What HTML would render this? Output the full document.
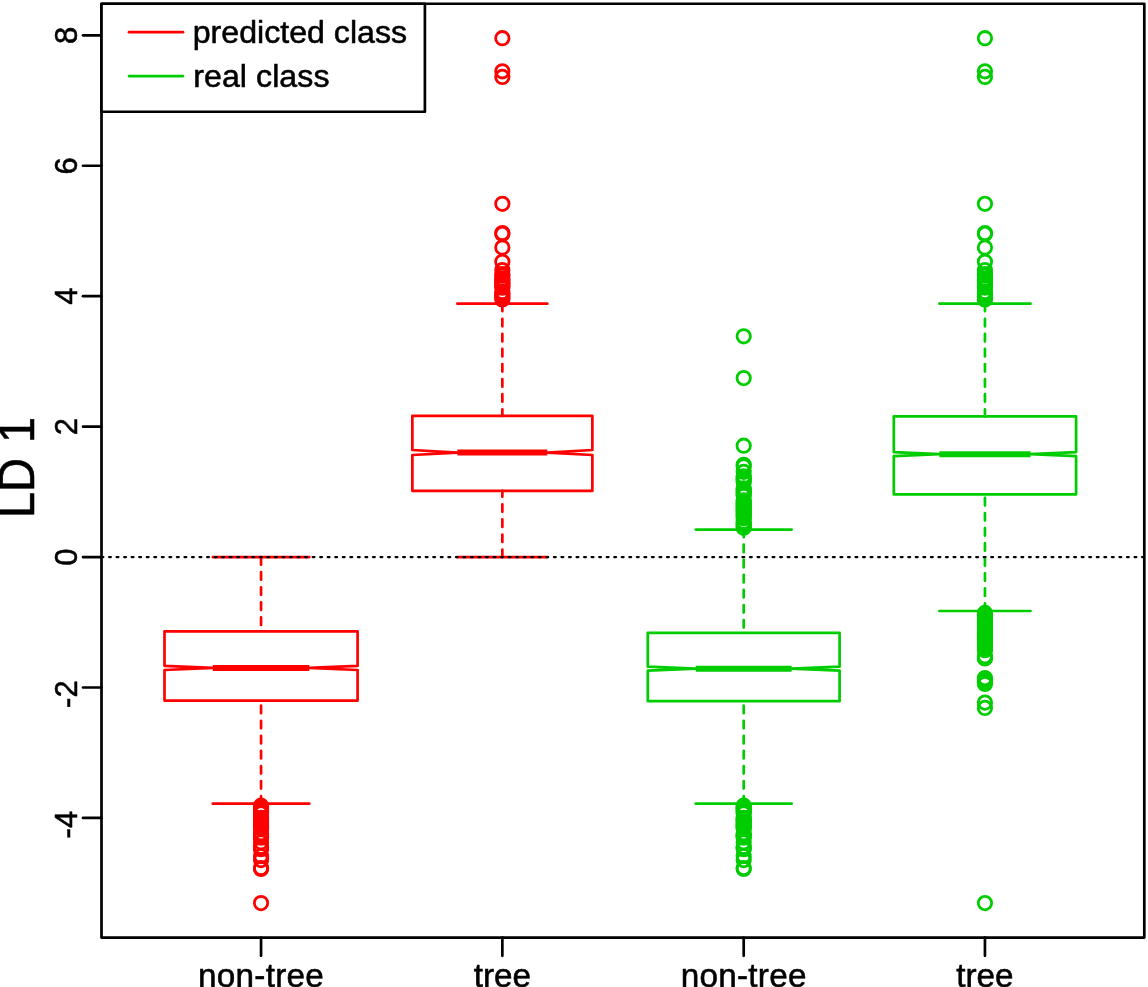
<!DOCTYPE html>
<html lang="en"><head><meta charset="utf-8"><title>LD 1 boxplot</title>
<style>html,body{margin:0;padding:0;background:#fff;overflow:hidden}body{width:1148px;height:987px;position:relative}</style></head>
<body>
<svg width="1148" height="987" viewBox="0 0 1148 987" style="display:block;position:absolute;left:0;top:0">
<rect width="1148" height="987" fill="#fff"/>
<g fill="none" stroke="#ff0000" stroke-width="2.7" stroke-linecap="round" stroke-linejoin="round">
<path d="M261.05 557.1V631.4M261.05 803.7V700.6" stroke-dasharray="7.54 7.54"/>
<path d="M212.775 557.1H309.325M212.775 803.7H309.325"/>
<path d="M164.5 700.6H357.6V670.0L309.325 667.9L357.6 665.8V631.4H164.5V665.8L212.775 667.9L164.5 670.0Z"/>
<path d="M212.775 667.9H309.325" stroke-width="6.0" stroke-linecap="butt"/>
</g>
<g fill="none" stroke="#ff0000" stroke-width="2.7" stroke-linecap="round" stroke-linejoin="round">
<path d="M502.35 303.7V415.9M502.35 557.1V490.9" stroke-dasharray="7.54 7.54"/>
<path d="M457.35 303.7H547.35M457.35 557.1H547.35"/>
<path d="M412.35 490.9H592.35V455.0L547.35 452.6L592.35 450.0V415.9H412.35V450.0L457.35 452.6L412.35 455.0Z"/>
<path d="M457.35 452.6H547.35" stroke-width="6.0" stroke-linecap="butt"/>
</g>
<g fill="none" stroke="#00cd00" stroke-width="2.7" stroke-linecap="round" stroke-linejoin="round">
<path d="M743.7 529.6V632.8M743.7 803.7V701.2" stroke-dasharray="7.54 7.54"/>
<path d="M695.75 529.6H791.6500000000001M695.75 803.7H791.6500000000001"/>
<path d="M647.8000000000001 701.2H839.6V670.7L791.6500000000001 668.7L839.6 666.7V632.8H647.8000000000001V666.7L695.75 668.7L647.8000000000001 670.7Z"/>
<path d="M695.75 668.7H791.6500000000001" stroke-width="6.0" stroke-linecap="butt"/>
</g>
<g fill="none" stroke="#00cd00" stroke-width="2.7" stroke-linecap="round" stroke-linejoin="round">
<path d="M984.95 303.7V416.4M984.95 611.0V494.3" stroke-dasharray="7.54 7.54"/>
<path d="M939.375 303.7H1030.525M939.375 611.0H1030.525"/>
<path d="M893.8000000000001 494.3H1076.1000000000001V456.2L1030.525 454.2L1076.1000000000001 452.1V416.4H893.8000000000001V452.1L939.375 454.2L893.8000000000001 456.2Z"/>
<path d="M939.375 454.2H1030.525" stroke-width="6.0" stroke-linecap="butt"/>
</g>
<g fill="none" stroke="#ff0000" stroke-width="2.8">
<circle cx="261.05" cy="805.70" r="6.7"/>
<circle cx="261.05" cy="806.80" r="6.7"/>
<circle cx="261.05" cy="807.90" r="6.7"/>
<circle cx="261.05" cy="809.00" r="6.7"/>
<circle cx="261.05" cy="810.10" r="6.7"/>
<circle cx="261.05" cy="811.20" r="6.7"/>
<circle cx="261.05" cy="812.30" r="6.7"/>
<circle cx="261.05" cy="813.40" r="6.7"/>
<circle cx="261.05" cy="817.80" r="6.7"/>
<circle cx="261.05" cy="818.90" r="6.7"/>
<circle cx="261.05" cy="820.00" r="6.7"/>
<circle cx="261.05" cy="821.10" r="6.7"/>
<circle cx="261.05" cy="822.20" r="6.7"/>
<circle cx="261.05" cy="823.30" r="6.7"/>
<circle cx="261.05" cy="824.40" r="6.7"/>
<circle cx="261.05" cy="825.50" r="6.7"/>
<circle cx="261.05" cy="826.60" r="6.7"/>
<circle cx="261.05" cy="827.70" r="6.7"/>
<circle cx="261.05" cy="828.80" r="6.7"/>
<circle cx="261.05" cy="833.25" r="6.7"/>
<circle cx="261.05" cy="834.40" r="6.7"/>
<circle cx="261.05" cy="835.50" r="6.7"/>
<circle cx="261.05" cy="836.65" r="6.7"/>
<circle cx="261.05" cy="837.75" r="6.7"/>
<circle cx="261.05" cy="842.25" r="6.7"/>
<circle cx="261.05" cy="846.95" r="6.7"/>
<circle cx="261.05" cy="847.85" r="6.7"/>
<circle cx="261.05" cy="849.25" r="6.7"/>
<circle cx="261.05" cy="856.10" r="6.7"/>
<circle cx="261.05" cy="860.10" r="6.7"/>
<circle cx="261.05" cy="868.00" r="6.7"/>
<circle cx="261.05" cy="868.90" r="6.7"/>
<circle cx="261.05" cy="903.10" r="6.7"/>
</g>
<g fill="none" stroke="#ff0000" stroke-width="2.8">
<circle cx="502.35" cy="38.20" r="6.7"/>
<circle cx="502.35" cy="71.30" r="6.7"/>
<circle cx="502.35" cy="76.90" r="6.7"/>
<circle cx="502.35" cy="203.80" r="6.7"/>
<circle cx="502.35" cy="233.00" r="6.7"/>
<circle cx="502.35" cy="233.90" r="6.7"/>
<circle cx="502.35" cy="247.50" r="6.7"/>
<circle cx="502.35" cy="261.80" r="6.7"/>
<circle cx="502.35" cy="270.00" r="6.7"/>
<circle cx="502.35" cy="274.20" r="6.7"/>
<circle cx="502.35" cy="275.70" r="6.7"/>
<circle cx="502.35" cy="278.70" r="6.7"/>
<circle cx="502.35" cy="280.20" r="6.7"/>
<circle cx="502.35" cy="281.70" r="6.7"/>
<circle cx="502.35" cy="283.20" r="6.7"/>
<circle cx="502.35" cy="284.70" r="6.7"/>
<circle cx="502.35" cy="286.20" r="6.7"/>
<circle cx="502.35" cy="287.70" r="6.7"/>
<circle cx="502.35" cy="291.95" r="6.7"/>
<circle cx="502.35" cy="293.45" r="6.7"/>
<circle cx="502.35" cy="294.95" r="6.7"/>
<circle cx="502.35" cy="296.45" r="6.7"/>
<circle cx="502.35" cy="297.95" r="6.7"/>
<circle cx="502.35" cy="299.45" r="6.7"/>
</g>
<g fill="none" stroke="#00cd00" stroke-width="2.8">
<circle cx="743.7" cy="336.30" r="6.7"/>
<circle cx="743.7" cy="378.10" r="6.7"/>
<circle cx="743.7" cy="445.70" r="6.7"/>
<circle cx="743.7" cy="464.80" r="6.7"/>
<circle cx="743.7" cy="466.30" r="6.7"/>
<circle cx="743.7" cy="471.80" r="6.7"/>
<circle cx="743.7" cy="476.30" r="6.7"/>
<circle cx="743.7" cy="477.80" r="6.7"/>
<circle cx="743.7" cy="479.30" r="6.7"/>
<circle cx="743.7" cy="480.80" r="6.7"/>
<circle cx="743.7" cy="482.30" r="6.7"/>
<circle cx="743.7" cy="488.30" r="6.7"/>
<circle cx="743.7" cy="489.80" r="6.7"/>
<circle cx="743.7" cy="491.30" r="6.7"/>
<circle cx="743.7" cy="492.80" r="6.7"/>
<circle cx="743.7" cy="494.30" r="6.7"/>
<circle cx="743.7" cy="495.80" r="6.7"/>
<circle cx="743.7" cy="500.30" r="6.7"/>
<circle cx="743.7" cy="501.80" r="6.7"/>
<circle cx="743.7" cy="503.30" r="6.7"/>
<circle cx="743.7" cy="504.80" r="6.7"/>
<circle cx="743.7" cy="506.30" r="6.7"/>
<circle cx="743.7" cy="507.80" r="6.7"/>
<circle cx="743.7" cy="509.30" r="6.7"/>
<circle cx="743.7" cy="510.80" r="6.7"/>
<circle cx="743.7" cy="512.30" r="6.7"/>
<circle cx="743.7" cy="513.80" r="6.7"/>
<circle cx="743.7" cy="515.30" r="6.7"/>
<circle cx="743.7" cy="516.80" r="6.7"/>
<circle cx="743.7" cy="518.30" r="6.7"/>
<circle cx="743.7" cy="521.80" r="6.7"/>
<circle cx="743.7" cy="523.30" r="6.7"/>
<circle cx="743.7" cy="524.80" r="6.7"/>
<circle cx="743.7" cy="526.30" r="6.7"/>
<circle cx="743.7" cy="527.80" r="6.7"/>
<circle cx="743.7" cy="805.70" r="6.7"/>
<circle cx="743.7" cy="806.80" r="6.7"/>
<circle cx="743.7" cy="807.90" r="6.7"/>
<circle cx="743.7" cy="809.00" r="6.7"/>
<circle cx="743.7" cy="810.10" r="6.7"/>
<circle cx="743.7" cy="811.20" r="6.7"/>
<circle cx="743.7" cy="812.30" r="6.7"/>
<circle cx="743.7" cy="813.40" r="6.7"/>
<circle cx="743.7" cy="817.80" r="6.7"/>
<circle cx="743.7" cy="818.90" r="6.7"/>
<circle cx="743.7" cy="820.00" r="6.7"/>
<circle cx="743.7" cy="821.10" r="6.7"/>
<circle cx="743.7" cy="822.20" r="6.7"/>
<circle cx="743.7" cy="823.30" r="6.7"/>
<circle cx="743.7" cy="824.40" r="6.7"/>
<circle cx="743.7" cy="825.50" r="6.7"/>
<circle cx="743.7" cy="826.60" r="6.7"/>
<circle cx="743.7" cy="827.70" r="6.7"/>
<circle cx="743.7" cy="828.80" r="6.7"/>
<circle cx="743.7" cy="833.25" r="6.7"/>
<circle cx="743.7" cy="834.40" r="6.7"/>
<circle cx="743.7" cy="835.50" r="6.7"/>
<circle cx="743.7" cy="836.65" r="6.7"/>
<circle cx="743.7" cy="837.75" r="6.7"/>
<circle cx="743.7" cy="842.25" r="6.7"/>
<circle cx="743.7" cy="846.95" r="6.7"/>
<circle cx="743.7" cy="847.85" r="6.7"/>
<circle cx="743.7" cy="849.25" r="6.7"/>
<circle cx="743.7" cy="856.10" r="6.7"/>
<circle cx="743.7" cy="860.10" r="6.7"/>
<circle cx="743.7" cy="868.00" r="6.7"/>
<circle cx="743.7" cy="868.90" r="6.7"/>
</g>
<g fill="none" stroke="#00cd00" stroke-width="2.8">
<circle cx="984.95" cy="38.20" r="6.7"/>
<circle cx="984.95" cy="71.30" r="6.7"/>
<circle cx="984.95" cy="76.90" r="6.7"/>
<circle cx="984.95" cy="203.80" r="6.7"/>
<circle cx="984.95" cy="233.00" r="6.7"/>
<circle cx="984.95" cy="233.90" r="6.7"/>
<circle cx="984.95" cy="247.50" r="6.7"/>
<circle cx="984.95" cy="261.80" r="6.7"/>
<circle cx="984.95" cy="270.00" r="6.7"/>
<circle cx="984.95" cy="274.20" r="6.7"/>
<circle cx="984.95" cy="275.70" r="6.7"/>
<circle cx="984.95" cy="278.70" r="6.7"/>
<circle cx="984.95" cy="280.20" r="6.7"/>
<circle cx="984.95" cy="281.70" r="6.7"/>
<circle cx="984.95" cy="283.20" r="6.7"/>
<circle cx="984.95" cy="284.70" r="6.7"/>
<circle cx="984.95" cy="286.20" r="6.7"/>
<circle cx="984.95" cy="287.70" r="6.7"/>
<circle cx="984.95" cy="291.95" r="6.7"/>
<circle cx="984.95" cy="293.45" r="6.7"/>
<circle cx="984.95" cy="294.95" r="6.7"/>
<circle cx="984.95" cy="296.45" r="6.7"/>
<circle cx="984.95" cy="297.95" r="6.7"/>
<circle cx="984.95" cy="299.45" r="6.7"/>
<circle cx="984.95" cy="612.90" r="6.7"/>
<circle cx="984.95" cy="614.40" r="6.7"/>
<circle cx="984.95" cy="617.15" r="6.7"/>
<circle cx="984.95" cy="618.65" r="6.7"/>
<circle cx="984.95" cy="620.15" r="6.7"/>
<circle cx="984.95" cy="621.65" r="6.7"/>
<circle cx="984.95" cy="623.15" r="6.7"/>
<circle cx="984.95" cy="624.65" r="6.7"/>
<circle cx="984.95" cy="626.15" r="6.7"/>
<circle cx="984.95" cy="627.65" r="6.7"/>
<circle cx="984.95" cy="630.65" r="6.7"/>
<circle cx="984.95" cy="632.15" r="6.7"/>
<circle cx="984.95" cy="633.65" r="6.7"/>
<circle cx="984.95" cy="635.15" r="6.7"/>
<circle cx="984.95" cy="636.65" r="6.7"/>
<circle cx="984.95" cy="638.15" r="6.7"/>
<circle cx="984.95" cy="639.65" r="6.7"/>
<circle cx="984.95" cy="641.15" r="6.7"/>
<circle cx="984.95" cy="642.65" r="6.7"/>
<circle cx="984.95" cy="644.15" r="6.7"/>
<circle cx="984.95" cy="645.65" r="6.7"/>
<circle cx="984.95" cy="647.15" r="6.7"/>
<circle cx="984.95" cy="648.65" r="6.7"/>
<circle cx="984.95" cy="650.15" r="6.7"/>
<circle cx="984.95" cy="656.15" r="6.7"/>
<circle cx="984.95" cy="657.65" r="6.7"/>
<circle cx="984.95" cy="658.50" r="6.7"/>
<circle cx="984.95" cy="678.10" r="6.7"/>
<circle cx="984.95" cy="679.50" r="6.7"/>
<circle cx="984.95" cy="681.00" r="6.7"/>
<circle cx="984.95" cy="682.30" r="6.7"/>
<circle cx="984.95" cy="684.00" r="6.7"/>
<circle cx="984.95" cy="702.60" r="6.7"/>
<circle cx="984.95" cy="707.90" r="6.7"/>
<circle cx="984.95" cy="903.10" r="6.7"/>
</g>
<path d="M101.5 557.05H1144.3" stroke="#000" stroke-width="2.2" stroke-linecap="round" stroke-dasharray="1.885 5.655" fill="none"/>
<g fill="none" stroke="#000" stroke-width="2.7" stroke-linecap="round" stroke-linejoin="round">
<rect x="101.5" y="3.75" width="1042.8" height="933.8"/>
<path d="M101.5 35.3H83.0"/>
<path d="M101.5 165.75H83.0"/>
<path d="M101.5 296.2H83.0"/>
<path d="M101.5 426.65H83.0"/>
<path d="M101.5 557.05H83.0"/>
<path d="M101.5 687.5H83.0"/>
<path d="M101.5 817.95H83.0"/>
<path d="M261.05 937.5V955.8"/>
<path d="M502.35 937.5V955.8"/>
<path d="M743.7 937.5V955.8"/>
<path d="M984.95 937.5V955.8"/>
<rect x="101.5" y="3.75" width="323.4" height="108.0" fill="#fff"/>
</g>
<path d="M129 32.2H183" stroke="#ff0000" stroke-width="2.7" stroke-linecap="round"/>
<path d="M129 76.1H183" stroke="#00cd00" stroke-width="2.7" stroke-linecap="round"/>
<g font-family="'Liberation Sans', Arial, Helvetica, sans-serif" fill="#000" stroke="#000" stroke-width="0.55" stroke-linejoin="round">
<text x="192.7" y="43.0" font-size="32.15">predicted class</text>
<text x="193.2" y="87.1" letter-spacing="0.06" font-size="32.15">real class</text>
<text transform="translate(76.5 35.3) rotate(-90)" text-anchor="middle" font-size="31">8</text>
<text transform="translate(76.5 165.8) rotate(-90)" text-anchor="middle" font-size="31">6</text>
<text transform="translate(76.5 296.2) rotate(-90)" text-anchor="middle" font-size="31">4</text>
<text transform="translate(76.5 426.6) rotate(-90)" text-anchor="middle" font-size="31">2</text>
<text transform="translate(76.5 557.0) rotate(-90)" text-anchor="middle" font-size="31">0</text>
<text transform="translate(76.5 694.1) rotate(-90)" text-anchor="middle" font-size="31">-2</text>
<text transform="translate(76.5 824.6) rotate(-90)" text-anchor="middle" font-size="31">-4</text>
<text x="261.05" y="986.7" text-anchor="middle" font-size="33.3" letter-spacing="0.25">non-tree</text>
<text x="502.35" y="986.7" text-anchor="middle" font-size="33.3">tree</text>
<text x="743.7" y="986.7" text-anchor="middle" font-size="33.3" letter-spacing="0.25">non-tree</text>
<text x="984.95" y="986.7" text-anchor="middle" font-size="33.3">tree</text>
<text transform="translate(33.85 467.5) rotate(-90) scale(1 1.05)" text-anchor="middle" font-size="47" word-spacing="1.8">LD 1</text>
</g>
</svg>
</body></html>
